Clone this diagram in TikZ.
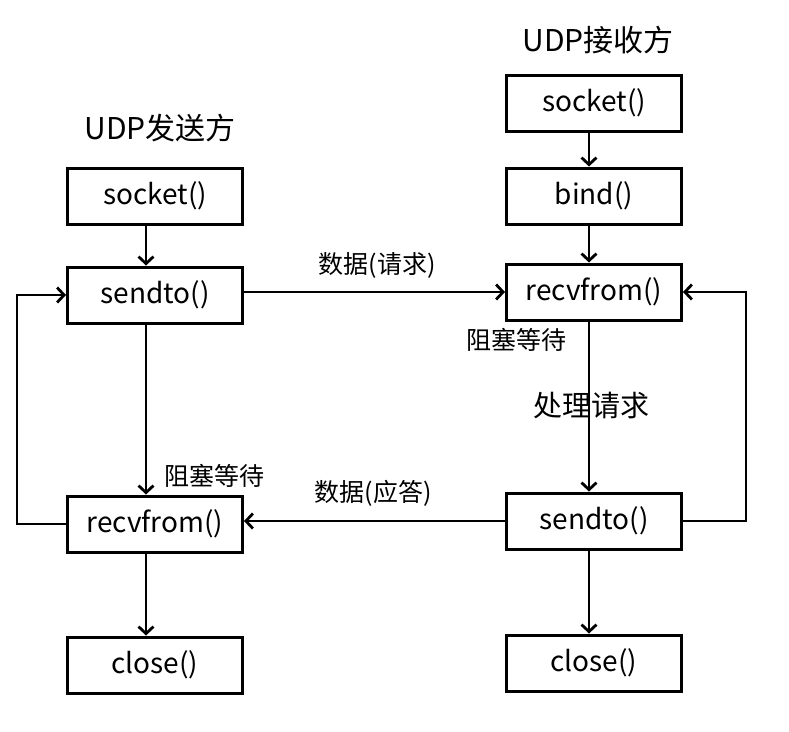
\documentclass[tikz,border=0pt]{standalone}
\usepackage{fontspec}
\setmainfont{Noto Sans CJK SC}
\usetikzlibrary{arrows.meta}

\tikzset{
  fbox/.style={draw, line width=3pt, minimum width=175pt, minimum height=56pt, font=\fontsize{28}{28}\selectfont},
  link/.style={line width=2.8pt, -{Straight Barb[length=7pt,width=15pt]}},
  lbl/.style={font=\fontsize{25}{25}\selectfont},
  ttl/.style={font=\fontsize{30}{30}\selectfont}
}

\begin{document}
\begin{tikzpicture}[x=1pt, y=-1pt]
\useasboundingbox (0,0) rectangle (789,731);

% sender side
\node[ttl] (titleL) at (160,128) {UDP发送方};
\node[fbox] (sockL) at (155,196) {socket()};
\node[fbox] (sendL) at (155,295) {sendto()};
\node[fbox] (recvL) at (155,524) {recvfrom()};
\node[fbox] (closeL) at (155,665) {close()};

% receiver side
\node[ttl] (titleR) at (598,40) {UDP接收方};
\node[fbox] (sockR) at (594,103) {socket()};
\node[fbox] (bindR) at (594,196) {bind()};
\node[fbox] (recvR) at (594,292) {recvfrom()};
\node[fbox] (sendR) at (594,521) {sendto()};
\node[fbox] (closeR) at (594,663) {close()};

% labels
\node[lbl] (req) at (377,265) {数据(请求)};
\node[lbl] (ans) at (373,493) {数据(应答)};
\node[lbl] (waitR) at (516,340) {阻塞等待};
\node[lbl] (waitL) at (214,476) {阻塞等待};
\node[font=\fontsize{29}{29}\selectfont] (work) at (591,406) {处理请求};

% sender arrows
\draw[link] ([xshift=-9pt]sockL.south) -- ([xshift=-9pt]sendL.north);
\draw[link] ([xshift=-9pt]sendL.south) -- ([xshift=-9pt]recvL.north);
\draw[link] ([xshift=-9pt]recvL.south) -- ([xshift=-9pt]closeL.north);
\draw[link] (recvL.west) -- ++(-49,0) |- (sendL.west);

% receiver arrows
\draw[link] ([xshift=-5pt]sockR.south) -- ([xshift=-5pt]bindR.north);
\draw[link] ([xshift=-5pt]bindR.south) -- ([xshift=-5pt]recvR.north);
\draw[link] ([xshift=-5pt]recvR.south) -- ([xshift=-5pt]sendR.north);
\draw[link] ([xshift=-5pt]sendR.south) -- ([xshift=-5pt]closeR.north);
\draw[link] (sendR.east) -- ++(63,0) |- (recvR.east);

% messages
\draw[link] (sendL.east |- recvR.west) -- (recvR.west);
\draw[link] (sendR.west) -- (sendR.west -| recvL.east);
\end{tikzpicture}
\end{document}
